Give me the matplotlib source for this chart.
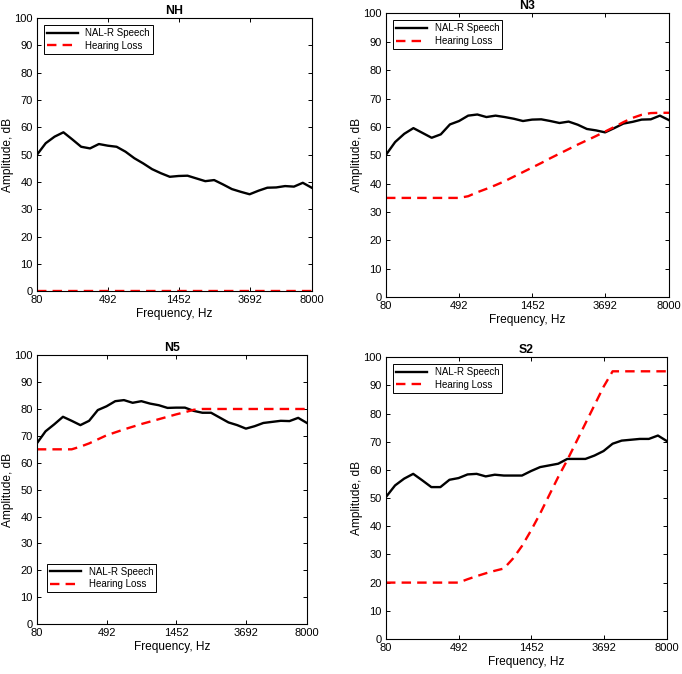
import numpy as np
import matplotlib
matplotlib.use('Agg')
import matplotlib.pyplot as plt

plt.rcParams['font.family'] = ['Liberation Sans', 'DejaVu Sans']

# band index 1..32, labelled with frequency at some bands
tick_idx = [1, 9, 17, 25, 32]
tick_labels = ['80', '492', '1452', '3692', '8000']
yticks = list(range(0, 101, 10))

titles = ['NH', 'N3', 'N5', 'S2']

nh_speech = [49.9, 54.2, 56.6, 58.2, 55.6, 52.9, 52.3, 53.9, 53.3, 52.9, 51.1, 48.7,
             46.8, 44.7, 43.2, 41.9, 42.2, 42.3, 41.3, 40.3, 40.7, 39.1, 37.4, 36.4,
             35.5, 36.8, 37.9, 38.0, 38.5, 38.3, 39.7, 37.9]
nh_loss = [0] * 32

n3_speech = [50.2, 54.7, 57.6, 59.6, 57.9, 56.2, 57.4, 60.9, 62.1, 64.0, 64.4, 63.5,
             64.0, 63.5, 62.9, 62.1, 62.6, 62.7, 62.1, 61.4, 61.9, 60.8, 59.3, 58.8,
             58.1, 59.6, 61.2, 61.8, 62.6, 62.7, 64.0, 62.4]
n3_loss = [35, 35, 35, 35, 35, 35, 35, 35, 35, 35.6, 37.0, 38.2, 39.5, 40.9, 42.5, 44.1,
           45.7, 47.3, 49.0, 50.6, 52.2, 53.8, 55.3, 56.8, 58.4, 60.0, 61.7, 63.2,
           64.3, 64.9, 65, 65]

n5_speech = [67.2, 71.7, 74.3, 77.1, 75.6, 74.0, 75.6, 79.6, 81.0, 82.9, 83.3, 82.3,
             82.9, 82.0, 81.4, 80.4, 80.5, 80.5, 79.3, 78.6, 78.6, 76.8, 75.0, 74.0,
             72.7, 73.6, 74.8, 75.2, 75.6, 75.5, 76.7, 74.8]
n5_loss = [65, 65, 65, 65, 65, 66.0, 67.2, 68.7, 70.2, 71.3, 72.4, 73.4, 74.4, 75.3,
           76.2, 77.1, 78.0, 78.8, 79.7, 80, 80, 80, 80, 80, 80, 80, 80, 80, 80, 80, 80, 80]

s2_speech = [50.4, 54.5, 56.9, 58.6, 56.3, 53.9, 53.9, 56.5, 57.1, 58.4, 58.6, 57.7,
             58.3, 58.0, 58.0, 58.0, 59.6, 61.0, 61.6, 62.2, 63.9, 63.9, 63.9, 65.1,
             66.7, 69.3, 70.4, 70.7, 71.0, 71.0, 72.2, 70.2]
s2_loss = [20, 20, 20, 20, 20, 20, 20, 20, 20, 21.2, 22.3, 23.3, 24.2, 25, 28.5, 33,
           38.5, 44.5, 51, 57.5, 63.5, 70, 76.5, 83, 89.5, 95, 95, 95, 95, 95, 95, 95]

speech = [nh_speech, n3_speech, n5_speech, s2_speech]
loss = [nh_loss, n3_loss, n5_loss, s2_loss]

# axes rectangles (the panels are not all the same size)
rects = [[0.054, 0.568, 0.403, 0.405],
         [0.566, 0.559, 0.415, 0.421],
         [0.054, 0.074, 0.396, 0.399],
         [0.566, 0.052, 0.412, 0.418]]
leg_loc = ['upper left', 'upper left', 'lower left', 'upper left']

fig = plt.figure(figsize=(6.82, 6.74), dpi=100)
x = np.arange(1, 33)

for i in range(4):
    ax = fig.add_axes(rects[i])
    ax.plot(x, speech[i], color='black', lw=1.7, label='NAL-R Speech')
    ax.plot(x, loss[i], color='red', lw=1.7, ls=(0, (4, 2.6)), label='Hearing Loss')
    ax.set_xlim(1, 32)
    ax.set_ylim(0, 100)
    ax.set_xticks(tick_idx)
    ax.set_xticklabels(tick_labels)
    ax.set_yticks(yticks)
    ax.tick_params(direction='in', length=3, width=0.7, labelsize=8,
                   top=True, right=True, pad=3)
    for s in ax.spines.values():
        s.set_linewidth(0.8)
    ax.set_title(titles[i], fontsize=8.8, fontweight='bold', pad=3)
    ax.set_xlabel('Frequency, Hz', fontsize=8.6, labelpad=2)
    ax.set_ylabel('Amplitude, dB', fontsize=8.6, labelpad=0)
    if leg_loc[i] == 'lower left':
        leg = ax.legend(loc='lower left', bbox_to_anchor=(0.02, 0.1), fontsize=7,
                        handlelength=3.2, fancybox=False, framealpha=1,
                        borderpad=0.3, labelspacing=0.3)
    else:
        leg = ax.legend(loc='upper left', fontsize=7, handlelength=3.2,
                        fancybox=False, framealpha=1, borderpad=0.3,
                        labelspacing=0.3, borderaxespad=0.7)
    leg.get_frame().set_edgecolor('black')
    leg.get_frame().set_linewidth(0.7)

plt.savefig('out.png', dpi=100)
